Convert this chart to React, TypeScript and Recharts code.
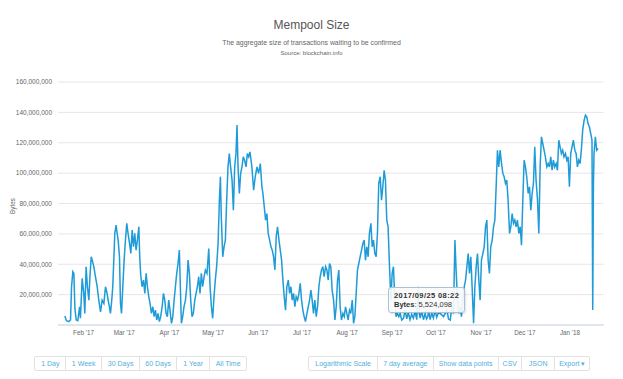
import React from 'react';
import { LineChart, Line, XAxis, YAxis, CartesianGrid, Tooltip } from 'recharts';

// day offsets from 2017-01-01 (UTC)
const days = [
  18.2, 19.3, 20.9, 22.1, 22.8, 23.7, 24.4, 25.1, 26.0, 27.1, 28.3, 28.9, 30.1, 31.2, 31.9, 32.8,
  33.7, 34.7, 35.3, 36.3, 37.0, 38.1, 39.2, 40.4, 41.5, 42.7, 43.8, 45.0, 46.1, 47.2, 47.9, 48.8,
  49.5, 50.2, 51.1, 51.8, 52.5, 53.4, 54.1, 54.8, 55.7, 56.4, 57.1, 58.0, 58.9, 59.8, 60.7, 61.6,
  62.6, 63.5, 64.4, 65.3, 66.2, 67.1, 68.0, 69.0, 69.6, 70.3, 71.2, 72.2, 73.1, 74.0, 74.9, 75.8,
  76.7, 77.6, 78.6, 79.5, 80.4, 81.3, 82.2, 83.1, 84.0, 85.0, 85.9, 86.8, 87.7, 88.6, 89.5, 90.4,
  91.4, 92.3, 93.2, 94.1, 95.0, 95.9, 96.8, 97.5, 98.2, 99.1, 100.0, 101.0, 101.9, 102.8, 103.7, 104.6,
  105.5, 106.4, 107.4, 108.3, 109.2, 110.1, 111.0, 111.9, 112.8, 113.8, 114.7, 115.8, 117.0, 117.9, 118.8, 119.7,
  120.6, 121.5, 122.4, 123.4, 124.3, 125.0, 125.6, 126.6, 127.5, 128.4, 129.3, 130.2, 131.1, 132.0, 133.0, 133.9,
  134.8, 135.7, 136.4, 137.1, 138.0, 138.9, 139.8, 140.7, 141.6, 142.6, 143.5, 144.4, 145.3, 146.6, 147.8, 148.9,
  150.1, 151.2, 152.4, 153.5, 154.2, 155.1, 156.0, 156.9, 157.8, 158.8, 159.7, 160.6, 161.5, 162.4, 163.3, 164.2,
  165.2, 166.1, 167.0, 167.9, 168.8, 169.7, 170.6, 171.6, 172.5, 173.4, 174.3, 175.2, 176.1, 177.0, 178.0, 178.9,
  179.8, 180.7, 181.6, 182.5, 183.4, 184.4, 185.3, 186.2, 187.1, 188.0, 188.9, 189.8, 190.8, 191.7, 192.6, 193.5,
  194.4, 195.3, 196.2, 197.2, 198.1, 199.0, 199.9, 200.8, 201.7, 202.7, 203.6, 204.5, 205.4, 206.3, 207.2, 208.1,
  209.1, 210.0, 210.9, 211.8, 212.7, 213.6, 214.5, 215.5, 216.4, 217.3, 218.2, 219.1, 220.0, 220.9, 221.9, 222.8,
  223.7, 224.6, 225.5, 226.4, 227.3, 228.3, 229.2, 230.1, 231.0, 231.9, 232.8, 233.7, 234.7, 235.6, 236.5, 237.4,
  238.3, 239.2, 240.1, 241.1, 242.0, 242.9, 243.8, 244.7, 245.6, 246.5, 247.5, 248.4, 249.5, 250.7, 251.8, 252.9,
  254.0, 255.2, 256.3, 257.5, 258.6, 259.8, 260.9, 261.5, 262.1, 263.2, 264.4, 265.5, 266.5, 267.34861, 268.0, 269.0,
  270.1, 271.2, 272.4, 273.5, 274.6, 275.9, 278.2, 280.5, 281.6, 282.8, 283.9, 285.0, 286.0, 286.9, 287.8, 288.7,
  289.6, 290.5, 291.4, 292.4, 293.3, 294.2, 295.1, 296.0, 296.9, 297.8, 298.8, 299.7, 300.6, 301.5, 302.4, 303.3,
  304.2, 305.2, 306.1, 307.0, 307.9, 308.8, 309.7, 310.6, 311.6, 312.5, 313.4, 314.3, 315.2, 316.1, 317.0, 318.0,
  318.9, 319.8, 320.7, 321.6, 322.5, 323.5, 324.4, 325.3, 326.2, 327.1, 328.0, 328.9, 329.9, 330.8, 331.7, 332.6,
  333.5, 334.4, 335.3, 336.3, 337.2, 338.1, 339.0, 339.9, 340.8, 341.7, 342.7, 343.6, 344.5, 345.4, 346.3, 347.2,
  348.1, 349.1, 350.0, 350.9, 351.8, 352.7, 353.6, 354.5, 355.5, 356.4, 357.3, 358.2, 359.1, 360.0, 360.9, 361.9,
  362.8, 363.7, 364.6, 365.5, 366.4, 367.3, 368.3, 369.2, 370.1, 371.0, 371.9, 372.8, 373.7, 374.7, 375.6, 376.5,
  377.4, 378.3, 379.2, 380.1, 380.6, 381.1, 381.5, 382.4, 383.3, 384.3,
];

// mempool size, millions of bytes
const sizes = [
  5.9, 2.8, 2.2, 3.3, 25.2, 35.1, 34.0, 10.9, 3.3, 2.8, 12.0, 4.4, 30.7, 20.8, 7.6, 38.4,
  25.2, 16.4, 29.6, 44.9, 42.7, 38.4, 31.8, 25.2, 16.4, 8.7, 16.4, 14.2, 25.2, 20.8, 16.4, 12.0,
  7.6, 14.2, 25.2, 42.7, 60.3, 65.8, 60.3, 55.9, 44.9, 14.2, 7.6, 25.2, 42.7, 55.9, 66.9, 60.3,
  53.7, 47.1, 62.5, 51.5, 60.3, 49.3, 55.9, 64.7, 44.9, 32.9, 25.2, 29.6, 20.8, 34.0, 25.2, 18.6,
  14.2, 7.6, 12.0, 5.5, 9.8, 3.3, 7.6, 2.2, 5.5, 12.0, 20.8, 16.4, 7.6, 5.5, 16.4, 9.8,
  1.1, 5.5, 16.4, 25.2, 34.0, 40.5, 49.3, 25.2, 1.1, 5.5, 12.0, 16.4, 25.2, 42.7, 34.0, 16.4,
  5.5, 7.6, 16.4, 20.8, 25.2, 31.8, 20.8, 34.0, 25.2, 31.8, 36.2, 34.0, 50.4, 25.2, 12.0, 4.4,
  18.6, 29.6, 38.4, 53.7, 82.2, 97.6, 71.2, 44.9, 51.5, 55.9, 82.2, 104.1, 112.9, 104.1, 95.4, 75.6,
  104.1, 112.9, 131.6, 104.1, 86.6, 99.8, 104.1, 110.7, 108.5, 104.1, 112.9, 110.7, 114.0, 104.1, 88.8, 97.6,
  104.1, 99.8, 106.3, 91.0, 86.6, 77.8, 69.1, 73.4, 60.3, 55.9, 51.5, 49.3, 44.9, 36.2, 58.1, 64.7,
  55.9, 49.3, 42.7, 29.6, 18.6, 9.8, 25.2, 29.6, 20.8, 25.2, 16.4, 20.8, 12.0, 18.6, 16.4, 20.8,
  27.4, 16.4, 9.8, 5.5, 2.2, 7.6, 12.0, 16.4, 23.0, 16.4, 7.6, 16.4, 5.5, 12.0, 25.2, 31.8,
  36.2, 38.4, 31.8, 38.4, 36.2, 29.6, 40.5, 38.4, 23.0, 16.4, 3.3, 12.0, 29.6, 36.2, 12.0, 3.3,
  7.6, 5.5, 12.0, 7.6, 3.3, 9.8, 7.6, 16.4, 1.1, 5.5, 20.8, 36.2, 40.5, 44.9, 49.3, 53.7,
  55.9, 42.7, 51.5, 44.9, 60.3, 66.9, 51.5, 55.9, 47.1, 44.9, 60.3, 93.2, 97.6, 82.2, 91.0, 101.9,
  95.4, 69.1, 64.7, 38.4, 16.4, 34.0, 38.4, 16.4, 5.5, 7.6, 5.5, 7.6, 3.3, 4.4, 9.8, 4.0,
  8.0, 3.5, 7.0, 4.5, 9.0, 3.5, 25.2, 8.0, 4.6, 9.0, 3.5, 7.5, 4.0, 5.524098, 9.0, 3.5,
  8.0, 4.5, 9.5, 5.0, 8.0, 7.6, 5.5, 9.8, 4.0, 3.3, 12.0, 7.6, 55.9, 34.0, 16.4, 7.6,
  12.0, 5.5, 16.4, 25.2, 29.6, 38.4, 47.1, 34.0, 44.9, 25.2, 1.1, 25.2, 38.4, 47.1, 29.6, 16.4,
  42.7, 47.1, 51.5, 64.7, 69.1, 42.7, 34.0, 51.5, 55.9, 64.7, 69.1, 91.0, 115.1, 104.1, 115.1, 106.3,
  99.8, 97.6, 93.2, 95.4, 82.2, 60.3, 64.7, 73.4, 66.9, 69.1, 64.7, 69.1, 60.3, 64.7, 52.6, 82.2,
  108.5, 104.1, 97.6, 86.6, 91.0, 75.6, 86.6, 93.2, 117.3, 95.4, 82.2, 60.3, 104.1, 123.9, 119.5, 115.1,
  110.7, 104.1, 106.3, 104.1, 110.7, 101.9, 108.5, 104.1, 106.3, 101.9, 121.7, 117.3, 112.9, 115.1, 110.7, 112.9,
  108.5, 110.7, 91.0, 112.9, 117.3, 121.7, 115.1, 112.9, 104.1, 108.5, 106.3, 115.1, 128.3, 134.8, 138.1, 137.0,
  132.6, 130.5, 126.1, 121.7, 9.8, 93.2, 112.9, 123.9, 115.1, 116.2,
];

const monthTicks = [31, 59, 90, 120, 151, 181, 212, 243, 273, 304, 334, 365];
const monthLabels = ["Feb '17", "Mar '17", "Apr '17", "May '17", "Jun '17", "Jul '17", "Aug '17", "Sep '17", "Oct '17", "Nov '17", "Dec '17", "Jan '18"];
const yTicks = [20e6, 40e6, 60e6, 80e6, 100e6, 120e6, 140e6, 160e6];

const rangeButtons = ['1 Day', '1 Week', '30 Days', '60 Days', '1 Year', 'All Time'];
const rangeWidths = [30, 35.7, 38.3, 36.7, 33.3, 36.7];
const optionButtons = ['Logarithmic Scale', '7 day average', 'Show data points', 'CSV', 'JSON', 'Export \u25BE'];
const optionWidths = [67.7, 55.7, 65, 23.3, 33.3, 35];

const hoverIndex = days.indexOf(267.34861);

const data = days.map((t, i) => ({ t, bytes: Math.round(sizes[i] * 1e6) }));

const FONT = '"Liberation Sans", Arial, sans-serif';
const LINE = '#1f9bd7';

function fmtDate(t: number): string {
  const d = new Date(Date.UTC(2017, 0, 1) + Math.round(t * 1440) * 60000);
  const p = (n: number) => String(n).padStart(2, '0');
  return `${d.getUTCFullYear()}/${p(d.getUTCMonth() + 1)}/${p(d.getUTCDate())} ${p(d.getUTCHours())}:${p(d.getUTCMinutes())}`;
}

function TipBox({ payload }: any) {
  if (!payload || !payload.length) return null;
  const pt = payload[0].payload;
  return (
    <div
      style={{
        background: 'rgba(250,250,250,0.92)',
        border: '1px solid #a9c3d6',
        borderRadius: 3,
        padding: '3px 5px',
        fontFamily: FONT,
        fontSize: 7.5,
        color: '#333',
        lineHeight: '9px',
        whiteSpace: 'nowrap',
        boxShadow: '1px 1px 2px rgba(0,0,0,0.12)',
      }}
    >
      <div style={{ fontWeight: 'bold', letterSpacing: 0.4 }}>{fmtDate(pt.t)}</div>
      <div>
        <b>Bytes</b>: {pt.bytes.toLocaleString('en-US')}
      </div>
    </div>
  );
}

function ButtonGroup({ labels, widths, left }: { labels: string[]; widths: number[]; left: number }) {
  return (
    <div
      style={{
        position: 'absolute',
        left,
        top: 355.5,
        height: 15,
        display: 'flex',
        border: '1px solid #e2e2e2',
        borderRadius: 2,
        boxSizing: 'border-box',
      }}
    >
      {labels.map((l, i) => (
        <div
          key={l}
          style={{
            width: widths[i],
            boxSizing: 'border-box',
            borderLeft: i === 0 ? 'none' : '1px solid #e2e2e2',
            fontFamily: FONT,
            fontSize: 7,
            color: '#4fb0de',
            textAlign: 'center',
            lineHeight: '13px',
            whiteSpace: 'nowrap',
          }}
        >
          {l}
        </div>
      ))}
    </div>
  );
}

export default function App() {
  return (
    <div style={{ position: 'relative', width: 623, height: 379, background: '#fff', overflow: 'hidden' }}>
      <style>{'body{margin:0}'}</style>
      <div style={{ position: 'absolute', left: 0, width: 623, top: 17, textAlign: 'center', fontFamily: FONT, fontSize: 12, color: '#555', lineHeight: '16px' }}>
        Mempool Size
      </div>
      <div style={{ position: 'absolute', left: 0, width: 623, top: 37.5, textAlign: 'center', fontFamily: FONT, fontSize: 6.9, color: '#666', lineHeight: '9px' }}>
        The aggregate size of transactions waiting to be confirmed
      </div>
      <div style={{ position: 'absolute', left: 0, width: 623, top: 48.5, textAlign: 'center', fontFamily: FONT, fontSize: 6, color: '#666', lineHeight: '8px' }}>
        Source: blockchain.info
      </div>
      <div
        style={{
          position: 'absolute',
          left: 12,
          top: 206,
          transform: 'translate(-50%, -50%) rotate(-90deg)',
          fontFamily: FONT,
          fontSize: 6.3,
          color: '#666',
        }}
      >
        Bytes
      </div>
      <div style={{ position: 'absolute', left: 0, top: 0 }}>
        <LineChart width={623} height={345} data={data} margin={{ top: 82, right: 19.5, bottom: 0, left: 8 }}>
          <CartesianGrid vertical={false} stroke="#e6e6e6" strokeWidth={1} />
          <XAxis
            dataKey="t"
            type="number"
            domain={[13.5, 388]}
            ticks={monthTicks}
            tickFormatter={(v: number) => monthLabels[monthTicks.indexOf(v)] ?? ''}
            tick={{ fill: '#666', fontSize: 6.3, fontFamily: FONT }}
            axisLine={{ stroke: '#ccd6eb' }}
            tickLine={false}
            tickSize={0}
            tickMargin={6}
            height={20}
            allowDataOverflow
          />
          <YAxis
            type="number"
            domain={[0, 160e6]}
            ticks={yTicks}
            tickFormatter={(v: number) => v.toLocaleString('en-US')}
            tick={{ fill: '#666', fontSize: 6.5, fontFamily: FONT }}
            axisLine={false}
            tickLine={false}
            tickSize={0}
            tickMargin={6}
            width={50}
            allowDataOverflow
          />
          <Tooltip
            content={<TipBox />}
            defaultIndex={hoverIndex}
            active
            cursor={false}
            position={{ x: 388, y: 287 }}
            isAnimationActive={false}
            wrapperStyle={{ pointerEvents: 'none' }}
          />
          <Line
            type="linear"
            dataKey="bytes"
            stroke={LINE}
            strokeWidth={1.5}
            dot={false}
            activeDot={false}
            isAnimationActive={false}
          />
        </LineChart>
      </div>
      <ButtonGroup labels={rangeButtons} widths={rangeWidths} left={34.3} />
      <ButtonGroup labels={optionButtons} widths={optionWidths} left={308.3} />
    </div>
  );
}
